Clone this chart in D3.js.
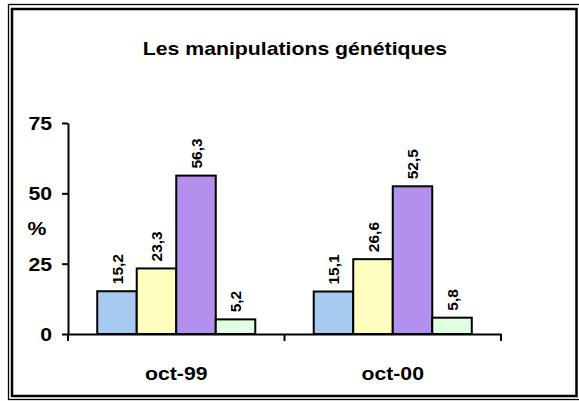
<!DOCTYPE html>
<html>
<head>
<meta charset="utf-8">
<script src="https://cdn.jsdelivr.net/npm/d3@7"></script>
<style>
  body { margin: 0; background: #fff; }
  text { font-family: "Liberation Sans", Arial, sans-serif; font-weight: bold; fill: #000; }
</style>
</head>
<body>
<div id="chart"></div>
<script>
// Data
var categories = ['oct-99', 'oct-00'];
var seriesKeys = ['s1', 's2', 's3', 's4'];
var values99 = [15.2, 23.3, 56.3, 5.2];
var values00 = [15.1, 26.6, 52.5, 5.8];
var yTicks = [0, 25, 50, 75];
var seriesColors = ['#a6caf0', '#ffffc0', '#b38fee', '#e0ffe0'];
var title = 'Les manipulations génétiques';

var rows = [values99, values00];

var w = 579;
var h = 401;
var sx = 1.18; // the original text looks horizontally stretched

var svg = d3.select('#chart').append('svg')
			.attr('width', w)
			.attr('height', h);

// double frame
svg.append('rect')
	.attr('x', 8.5).attr('y', 4.5)
	.attr('width', 580).attr('height', 395)
	.attr('fill', 'none').attr('stroke', '#000').attr('stroke-width', 1.3);
svg.append('rect')
	.attr('x', 12).attr('y', 9)
	.attr('width', 564.5).attr('height', 387)
	.attr('fill', '#fff').attr('stroke', '#000').attr('stroke-width', 2.5);

var plotLeft = 68, plotRight = 501, plotTop = 123, plotBottom = 334;

var y = d3.scaleLinear().domain([0, 75]).range([plotBottom, plotTop]);
var x0 = d3.scaleBand().domain(categories).range([plotLeft, plotRight])
			.paddingInner(0.27).paddingOuter(0.135);
var x1 = d3.scaleBand().domain(seriesKeys).range([0, x0.bandwidth()]);
var color = d3.scaleOrdinal().domain(seriesKeys).range(seriesColors);

var fr = d3.formatLocale({decimal: ',', thousands: ' ', grouping: [3], currency: ['', '€']});
var fmt = fr.format('.1f');

function stretched(sel, ax) {
	sel.attr('transform', 'translate(' + ax + ',0) scale(' + sx + ',1) translate(' + (-ax) + ',0)');
}

// title
svg.append('text')
	.attr('x', 295).attr('y', 55)
	.attr('text-anchor', 'middle')
	.style('font-size', '18px')
	.text(title)
	.call(stretched, 295);

// bars
var groups = svg.append('g').selectAll('g')
	.data(categories)
	.enter().append('g')
	.attr('transform', function(d) { return 'translate(' + x0(d) + ',0)'; });

function cells(d, i) {
	return seriesKeys.map(function(k, j) { return {key: k, value: rows[i][j]}; });
}

groups.selectAll('rect')
	.data(cells)
	.enter().append('rect')
	.attr('x', function(d) { return x1(d.key); })
	.attr('y', function(d) { return y(d.value); })
	.attr('width', x1.bandwidth())
	.attr('height', function(d) { return y(0) - y(d.value); })
	.attr('fill', function(d) { return color(d.key); })
	.attr('stroke', '#000')
	.attr('stroke-width', 2);

groups.selectAll('text')
	.data(cells)
	.enter().append('text')
	.attr('transform', function(d) {
		return 'translate(' + (x1(d.key) + x1.bandwidth() / 2) + ',' + (y(d.value) - 7) + ') rotate(-90)';
	})
	.attr('dy', '0.36em')
	.style('font-size', '15.5px')
	.text(function(d) { return fmt(d.value); });

// y axis
var yAxis = svg.append('g')
	.attr('transform', 'translate(' + plotLeft + ',0)')
	.call(d3.axisLeft(y).tickValues(yTicks).tickSize(6).tickSizeOuter(0).tickPadding(10));
yAxis.select('.domain').attr('stroke-width', 2);
yAxis.selectAll('.tick line').attr('stroke-width', 2);
yAxis.selectAll('.tick text')
	.style('font-size', '18px')
	.attr('font-family', null)
	.attr('dy', '0.36em')
	.call(stretched, -16);

// x axis
var xAxis = svg.append('g')
	.attr('transform', 'translate(0,' + plotBottom + ')')
	.call(d3.axisBottom(x0).tickSize(0).tickPadding(0));
xAxis.select('.domain').attr('stroke-width', 2);
xAxis.selectAll('.tick text').remove();
xAxis.selectAll('.sep')
	.data([plotLeft, (plotLeft + plotRight) / 2, plotRight])
	.enter().append('line')
	.attr('x1', function(d) { return d; }).attr('x2', function(d) { return d; })
	.attr('y1', 0).attr('y2', 7)
	.attr('stroke', '#000').attr('stroke-width', 2);

svg.selectAll('.cat')
	.data(categories)
	.enter().append('text')
	.attr('x', function(d) { return x0(d) + x0.bandwidth() / 2; })
	.attr('y', 380)
	.attr('text-anchor', 'middle')
	.style('font-size', '18px')
	.text(function(d) { return d; })
	.each(function(d) { d3.select(this).call(stretched, x0(d) + x0.bandwidth() / 2); });

// axis title
svg.append('text')
	.attr('x', 37).attr('y', 235)
	.attr('text-anchor', 'middle')
	.style('font-size', '18px')
	.text('%')
	.call(stretched, 37);
</script>
</body>
</html>
